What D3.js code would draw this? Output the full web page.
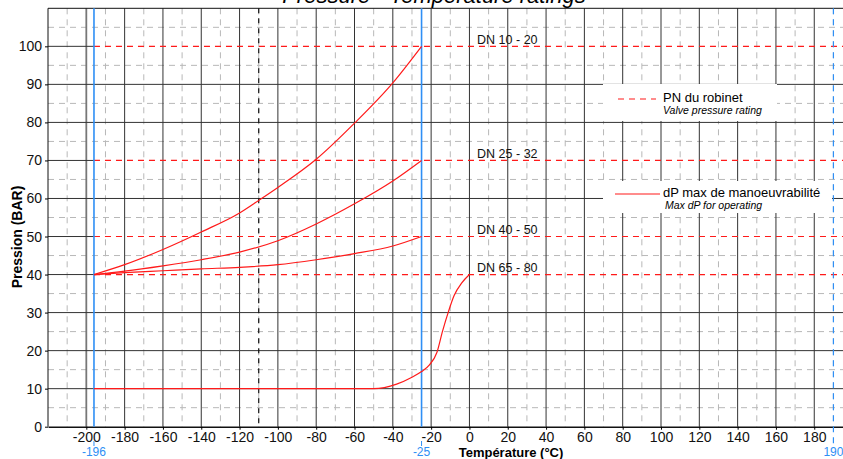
<!DOCTYPE html>
<html>
<head>
<meta charset="utf-8">
<script src="https://cdn.jsdelivr.net/npm/d3@7"></script>
<style>
  body { margin: 0; background: #fff; }
  #chart svg { display: block; font-family: "Liberation Sans", Arial, sans-serif; }
</style>
</head>
<body>
<div id="chart"></div>
<script>
// ---- data ----
const xTicks = d3.range(-200, 181, 20);
const yTicks = d3.range(0, 101, 10);
const pnLevels = [100, 70, 50, 40];
const dnLabels = ["DN 10 - 20", "DN 25 - 32", "DN 40 - 50", "DN 65 - 80"];
const refTemps = [-196, -25, 190];

const dn10_20 = [[-196, 40], [-180, 42.6], [-160, 46.6], [-140, 51.2], [-120, 56.2], [-110, 59.5], [-100, 62.9], [-80, 70.3], [-60, 79.8], [-40, 90.4], [-25, 100]];
const dn25_32 = [[-196, 40], [-180, 40.9], [-160, 42.3], [-140, 43.9], [-120, 45.9], [-100, 48.9], [-80, 53.3], [-60, 58.6], [-40, 64.6], [-25, 70]];
const dn40_50 = [[-196, 40], [-180, 40.5], [-160, 41.0], [-140, 41.5], [-120, 41.9], [-100, 42.6], [-80, 43.9], [-60, 45.5], [-40, 47.5], [-25, 50]];
const dn65_80 = [[-196, 10], [-50, 10], [-38, 11.2], [-30, 13], [-25, 14.5], [-21, 16.2], [-17, 19.5], [-14, 25.2], [-11, 30.2], [-8, 34.5], [-4, 37.8], [0, 40]];

class RatingChart {
  constructor(_parentElement) {
    this.parentElement = _parentElement;
    this.initVis();
  }

  initVis() {
    let vis = this;

    vis.width = 843;
    vis.height = 459;
    vis.blue = "#2e8ff5";
    vis.red = "#ff1a1a";

    vis.svg = d3
      .select("#" + vis.parentElement)
      .append("svg")
      .attr("width", vis.width)
      .attr("height", vis.height);

    // plot runs past the right edge of the picture
    vis.x = d3.scaleLinear().domain([-220, 195]).range([48, 843]);
    vis.y = d3.scaleLinear().domain([0, 110]).range([426.7, 8.3]);

    vis.line = d3
      .line()
      .x((d) => vis.x(d[0]))
      .y((d) => vis.y(d[1]))
      .curve(d3.curveMonotoneX);

    vis.updateVis();
  }

  updateVis() {
    let vis = this;
    const [x0, x1] = vis.x.range();
    const [yb, yt] = vis.y.range();

    // minor dashed grid
    const grid = vis.svg.append("g").attr("class", "grid");
    grid
      .selectAll(".vminor")
      .data(d3.range(-210, 195, 20))
      .join("line")
      .attr("x1", (d) => vis.x(d))
      .attr("x2", (d) => vis.x(d))
      .attr("y1", yt)
      .attr("y2", yb)
      .attr("stroke", "#b8b8b8")
      .attr("stroke-dasharray", "6,5");
    grid
      .selectAll(".hminor")
      .data(d3.range(5, 110, 10))
      .join("line")
      .attr("x1", x0)
      .attr("x2", x1)
      .attr("y1", (d) => vis.y(d))
      .attr("y2", (d) => vis.y(d))
      .attr("stroke", "#b8b8b8")
      .attr("stroke-dasharray", "6,5");

    // major solid grid
    grid
      .selectAll(".vmajor")
      .data(xTicks)
      .join("line")
      .attr("x1", (d) => vis.x(d))
      .attr("x2", (d) => vis.x(d))
      .attr("y1", yt)
      .attr("y2", yb)
      .attr("stroke", (d) => (d === -200 ? "#777" : "#333"))
      .attr("stroke-width", (d) => (d === -200 ? 1.8 : 1));
    grid
      .selectAll(".hmajor")
      .data(yTicks.filter((d) => d > 0))
      .join("line")
      .attr("x1", x0)
      .attr("x2", (d) => (pnLevels.includes(d) ? vis.x(-196) : x1))
      .attr("y1", (d) => vis.y(d))
      .attr("y2", (d) => vis.y(d))
      .attr("stroke", "#333");

    // -110 reference
    grid
      .append("line")
      .attr("x1", vis.x(-110))
      .attr("x2", vis.x(-110))
      .attr("y1", yt)
      .attr("y2", yb)
      .attr("stroke", "#111")
      .attr("stroke-width", 1.2)
      .attr("stroke-dasharray", "5,5");

    // legend boxes hide the grid
    vis.svg.append("rect").attr("x", 603).attr("y", 84).attr("width", 174).attr("height", 37).attr("fill", "#fff");
    vis.svg.append("rect").attr("x", 603).attr("y", 181).attr("width", 229).attr("height", 32).attr("fill", "#fff");

    // frame
    vis.svg.append("line").attr("x1", x0).attr("x2", x1).attr("y1", yt).attr("y2", yt).attr("stroke", "#111");
    vis.svg.append("line").attr("x1", x0).attr("x2", x0).attr("y1", yt).attr("y2", yb).attr("stroke", "#111");

    // axes (plain hyphen minus, as in the reference)
    vis.svg
      .append("g")
      .attr("transform", `translate(0,${yb})`)
      .call(
        d3.axisBottom(vis.x).tickValues(xTicks).tickFormat((d) => String(d))
          .tickSize(3).tickPadding(2).tickSizeOuter(0)
      )
      .call((g) => g.select(".domain").attr("stroke", "#111").attr("stroke-width", 1.4))
      .call((g) => g.selectAll("text").attr("font-size", 14).attr("fill", "#111"));

    vis.svg
      .append("g")
      .attr("transform", `translate(${x0},0)`)
      .call(d3.axisLeft(vis.y).tickValues(yTicks).tickSize(3).tickPadding(3).tickSizeOuter(0))
      .call((g) => g.select(".domain").remove())
      .call((g) => g.selectAll("text").attr("font-size", 14).attr("fill", "#111"));

    // PN levels
    vis.svg
      .selectAll(".pn")
      .data(pnLevels)
      .join("line")
      .attr("x1", vis.x(-196))
      .attr("x2", x1)
      .attr("y1", (d) => vis.y(d))
      .attr("y2", (d) => vis.y(d))
      .attr("stroke", vis.red)
      .attr("stroke-width", 1.2)
      .attr("stroke-dasharray", "6,5");

    // reference temperatures
    vis.svg
      .selectAll(".ref")
      .data(refTemps)
      .join("line")
      .attr("x1", (d) => vis.x(d))
      .attr("x2", (d) => vis.x(d))
      .attr("y1", yt)
      .attr("y2", (d) => (d === 190 ? 445 : yb))
      .attr("stroke", vis.blue)
      .attr("stroke-width", (d) => (d === 190 ? 1.2 : 1.6))
      .attr("stroke-dasharray", (d) => (d === 190 ? "6,5" : null));
    vis.svg
      .selectAll(".refTick")
      .data(refTemps.filter((d) => d !== 190))
      .join("line")
      .attr("x1", (d) => vis.x(d))
      .attr("x2", (d) => vis.x(d))
      .attr("y1", 441)
      .attr("y2", 446)
      .attr("stroke", vis.blue);
    vis.svg
      .selectAll(".refLabel")
      .data(refTemps)
      .join("text")
      .attr("x", (d) => vis.x(d))
      .attr("y", 456)
      .attr("text-anchor", "middle")
      .attr("font-size", 12)
      .attr("fill", vis.blue)
      .text((d) => d);

    // rating curves
    vis.svg
      .selectAll(".curve")
      .data([dn10_20, dn25_32, dn40_50, dn65_80])
      .join("path")
      .attr("d", vis.line)
      .attr("fill", "none")
      .attr("stroke", vis.red)
      .attr("stroke-width", 1.2);

    vis.svg
      .selectAll(".dn")
      .data(dnLabels)
      .join("text")
      .attr("x", vis.x(4))
      .attr("y", (d, i) => vis.y(pnLevels[i]) - 2.5)
      .attr("font-size", 12.5)
      .attr("fill", "#111")
      .text((d) => d);

    // legend
    vis.svg.append("line").attr("x1", 618).attr("x2", 656).attr("y1", 99).attr("y2", 99)
      .attr("stroke", vis.red).attr("stroke-width", 1.2).attr("stroke-dasharray", "6,5");
    vis.svg.append("text").attr("x", 663).attr("y", 101.5).attr("font-size", 13).text("PN du robinet");
    vis.svg.append("text").attr("x", 663).attr("y", 114).attr("font-size", 10.5).attr("font-style", "italic").text("Valve pressure rating");

    vis.svg.append("line").attr("x1", 615).attr("x2", 660).attr("y1", 194).attr("y2", 194)
      .attr("stroke", vis.red).attr("stroke-width", 1.2);
    vis.svg.append("text").attr("x", 663).attr("y", 196.5).attr("font-size", 13).text("dP max de manoeuvrabilité");
    vis.svg.append("text").attr("x", 665).attr("y", 208.5).attr("font-size", 10.5).attr("font-style", "italic").text("Max dP for operating");

    // titles
    vis.svg.append("text").attr("x", 434).attr("y", 3).attr("text-anchor", "middle")
      .attr("font-size", 22).attr("font-style", "italic").text("Pressure - Temperature ratings");
    vis.svg.append("text").attr("x", 511).attr("y", 456.5).attr("text-anchor", "middle")
      .attr("font-size", 13).attr("font-weight", "bold").text("Température (°C)");
    vis.svg.append("text").attr("transform", "translate(22,237) rotate(-90)").attr("text-anchor", "middle")
      .attr("font-size", 14).attr("font-weight", "bold").text("Pression (BAR)");
  }
}

new RatingChart("chart");
</script>
</body>
</html>
